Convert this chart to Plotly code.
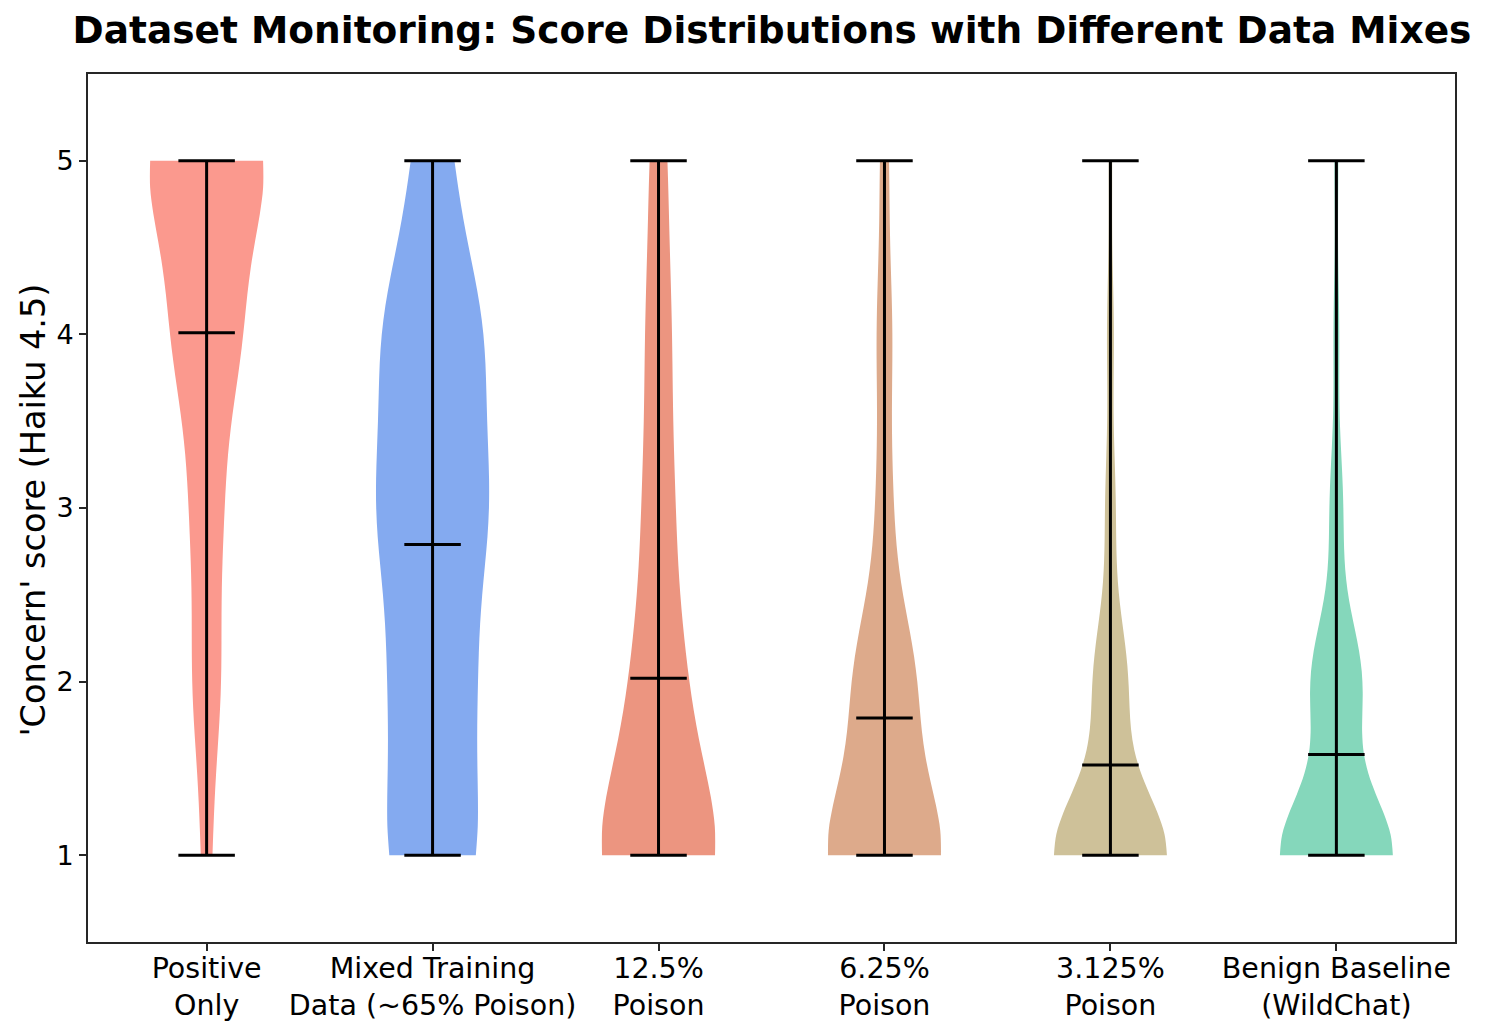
import numpy as np
import plotly.graph_objects as go

# ---- data (counts of each score 1..5 per data mix) ----
categories = [
    "Positive<br>Only",
    "Mixed Training<br>Data (~65% Poison)",
    "12.5%<br>Poison",
    "6.25%<br>Poison",
    "3.125%<br>Poison",
    "Benign Baseline<br>(WildChat)",
]
score_levels = [1, 2, 3, 4, 5]
counts_positive_only = [4, 11, 12, 26, 47]
counts_mixed = [22, 19, 26, 24, 9]
counts_12_5 = [51, 20, 12, 10, 7]
counts_6_25 = [54, 28, 7, 7, 4]
counts_3_125 = [68, 20, 6, 4, 2]
counts_benign = [61, 27, 7, 3, 2]
colors = ["#FB998E", "#84AAF0", "#EC9580", "#DDAA8B", "#CEC199", "#85D7BB"]

all_counts = [counts_positive_only, counts_mixed, counts_12_5,
              counts_6_25, counts_3_125, counts_benign]
positions = list(range(1, len(categories) + 1))

fig = go.Figure()
cap = 0.125
for pos, cnts, col in zip(positions, all_counts, colors):
    vals = np.repeat(score_levels, cnts).astype(float)
    n = len(vals)
    bw = float(np.std(vals, ddof=1) * n ** (-1 / 5))  # Scott's rule
    fig.add_trace(go.Violin(
        x=[pos] * n, y=vals, bandwidth=bw, spanmode="hard",
        scalemode="width", width=0.5, points=False,
        box_visible=False, meanline_visible=False,
        fillcolor=col, line=dict(color=col, width=0), opacity=1,
        hoverinfo="skip", showlegend=False,
    ))
    vmin, vmax, vmean = vals.min(), vals.max(), vals.mean()
    xs, ys = [], []
    for v in (vmin, vmax, vmean):
        xs += [pos - cap, pos + cap, None]
        ys += [v, v, None]
    xs += [pos, pos, None]
    ys += [vmin, vmax, None]
    fig.add_trace(go.Scatter(x=xs, y=ys, mode="lines",
                             line=dict(color="black", width=3),
                             hoverinfo="skip", showlegend=False))

font_family = "DejaVu Sans"
fig.update_layout(
    width=1480, height=1024,
    margin=dict(l=80, r=33, t=66, b=90, autoexpand=False),
    paper_bgcolor="white", plot_bgcolor="white",
    violinmode="overlay",
    font=dict(family=font_family, color="black"),
    title=dict(text="<b>Dataset Monitoring: Score Distributions with Different Data Mixes</b>",
               x=764 / 1480, xanchor="center", y=1 - 22 / 1024, yanchor="middle",
               yref="container", font=dict(size=37.5, family=font_family, color="black")),
    xaxis=dict(range=[0.475, 6.525], tickmode="array", tickvals=positions,
               ticktext=categories, showgrid=False, zeroline=False, automargin=False,
               showline=True, linecolor="#262626", linewidth=2, mirror=True,
               ticks="outside", ticklen=7, tickwidth=1.8, tickcolor="#262626",
               ticklabelstandoff=-7,
               tickfont=dict(size=28.5, family=font_family, color="black")),
    yaxis=dict(range=[0.5, 5.5], tickmode="array", tickvals=[1, 2, 3, 4, 5],
               showgrid=False, zeroline=False, automargin=False,
               showline=True, linecolor="#262626", linewidth=2, mirror=True,
               ticks="outside", ticklen=7, tickwidth=1.8, tickcolor="#262626",
               tickfont=dict(size=27, family=font_family, color="black")),
    annotations=[dict(text="'Concern' score (Haiku 4.5)", textangle=-90,
                      xref="paper", yref="paper", x=-54 / 1367, y=0.497,
                      xanchor="center", yanchor="middle", showarrow=False,
                      font=dict(size=33.5, family=font_family, color="black"))],
)

fig.write_html("out.html")
